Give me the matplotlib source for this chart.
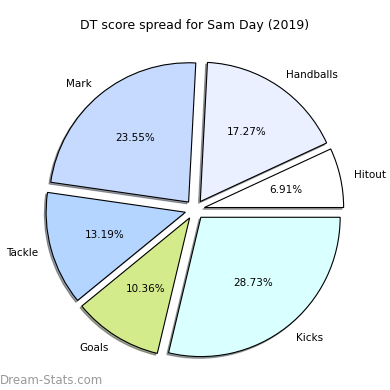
import matplotlib
matplotlib.use("Agg")
import matplotlib.pyplot as plt

labels = ["Hitout", "Handballs", "Mark", "Tackle", "Goals", "Kicks"]
values = [6.91, 17.27, 23.55, 13.19, 10.36, 28.73]
colors = ["#ffffff", "#eaf0ff", "#c6d9ff", "#b3d5ff", "#d3eb8a", "#d9ffff"]
explode = [0.07] * 6

fig = plt.figure(figsize=(3.9, 3.9), dpi=100)
ax = fig.add_axes([0.053, 0.016, 0.893, 0.893])
ax.pie(values, labels=labels, colors=colors, explode=explode, autopct="%1.2f%%",
       startangle=0, counterclock=True,
       shadow=dict(ox=-0.009, oy=-0.009, shade=0.7),
       wedgeprops=dict(edgecolor="black", linewidth=0.8),
       textprops=dict(fontsize=7.5), pctdistance=0.6, labeldistance=1.1)
ax.set_aspect("equal")
fig.text(0.5, 0.925, "DT score spread for Sam Day (2019)", ha="center", fontsize=9)
fig.text(0.0, 0.015, "Dream-Stats.com", fontsize=8.5, color="#999999", ha="left")
fig.savefig("out.png", dpi=100)
